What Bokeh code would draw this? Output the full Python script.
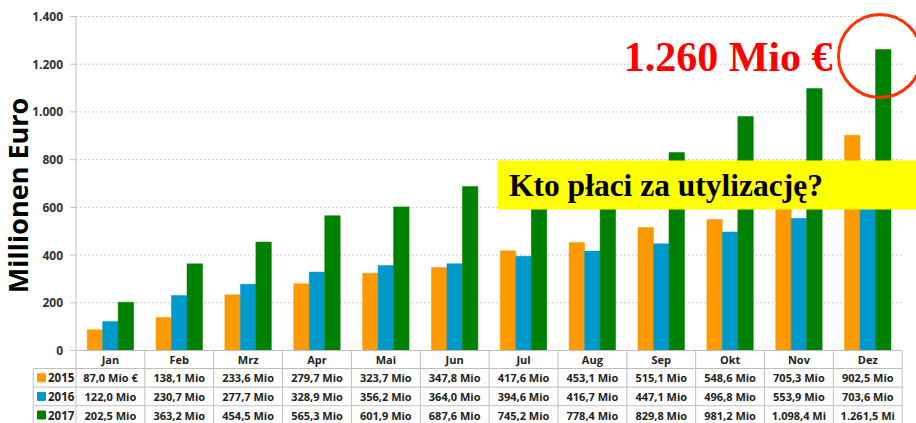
import math
from bokeh.plotting import figure
from bokeh.models import ColumnDataSource
from bokeh.embed import file_html
from bokeh.resources import INLINE
from bokeh.core.properties import value

# ---------------- data ----------------
months = ["Jan", "Feb", "Mrz", "Apr", "Mai", "Jun", "Jul", "Aug", "Sep", "Okt", "Nov", "Dez"]
years = ["2015", "2016", "2017"]
v2015 = [87.0, 138.1, 233.6, 279.7, 323.7, 347.8, 417.6, 453.1, 515.1, 548.6, 705.3, 902.5]
v2016 = [122.0, 230.7, 277.7, 328.9, 356.2, 364.0, 394.6, 416.7, 447.1, 496.8, 553.9, 703.6]
v2017 = [202.5, 363.2, 454.5, 565.3, 601.9, 687.6, 745.2, 778.4, 829.8, 981.2, 1098.4, 1261.5]
series = [v2015, v2016, v2017]
colors = ["#FF9900", "#0099CC", "#008000"]
yticks = [0, 200, 400, 600, 800, 1000, 1200, 1400]
ytick_labels = ["0", "200", "400", "600", "800", "1.000", "1.200", "1.400"]
axis_title = "Millionen Euro"
highlight_text = "1.260 Mio €"
question_text = "Kto płaci za utylizację?"

# ---------------- styling / geometry ----------------
FONT = "Open Sans"
SERIF = "Liberation Serif"
GRID = "#C8C8C8"
LINE = "#C0C0C0"
TXT = "#222222"

W, H = 916, 423
PXX = 68.85            # px per category
PXY = 334 / 1400       # px per value unit
X0 = 75.5              # screen x of category 0
Y0 = 350               # screen y of value 0

def sx(px):  # screen px -> data x
    return (px - X0) / PXX

def sy(py):  # screen py -> data y
    return (Y0 - py) / PXY

x_start, x_end = sx(0), sx(W)
y_start, y_end = sy(H), sy(0)

HDR = 18 / PXY          # header row height (data units)
ROW = 18.6 / PXY        # table row height (data units)
TLEFT = sx(32.7)        # left border of table legend column
offsets = [-0.225, 0.0, 0.225]
n = len(months)


def fmt(v):
    return f"{v:,.1f}".replace(",", " ").replace(".", ",").replace(" ", ".")


p = figure(width=W, height=H, x_range=(x_start, x_end), y_range=(y_start, y_end),
           output_backend="svg", toolbar_location=None,
           x_axis_location=None, y_axis_location=None,
           min_border_left=0, min_border_right=0, min_border_top=0, min_border_bottom=0)
p.outline_line_color = None
p.grid.visible = False

# grid lines and tick stubs
gt = yticks[1:]
p.segment(x0=[0] * len(gt), y0=gt, x1=[n] * len(gt), y1=gt,
          line_color=GRID, line_dash="2 2", line_width=1)
p.segment(x0=[sx(X0 - 6)] * len(yticks), y0=yticks, x1=[0] * len(yticks), y1=yticks,
          line_color=LINE, line_width=1)

# y tick labels
p.text(x=[sx(62.5)] * len(yticks), y=yticks, text=ytick_labels, text_align="right",
       text_baseline="middle", text_font=value(FONT), text_font_style="bold",
       text_font_size="12px", text_color="#333333")

# y axis title
p.text(x=[sx(16.5)], y=[650], text=[axis_title], angle=math.pi / 2,
       text_align="center", text_baseline="middle", text_font=value(FONT),
       text_font_style="bold", text_font_size="27px", text_color="black")

# bars
for vals, col, off in zip(series, colors, offsets):
    src = ColumnDataSource(dict(x=[i + 0.5 + off for i in range(n)], top=vals))
    p.vbar(x="x", top="top", width=0.225, bottom=0, source=src,
           fill_color=col, line_color=col, line_width=0.5)

# ---------------- data table ----------------
tbottom = -HDR - 3 * ROW
vx = list(range(n + 1))
p.segment(x0=vx, y0=[tbottom] * len(vx), x1=vx, y1=[0] * len(vx), line_color=LINE, line_width=1)
p.segment(x0=[0], y0=[0], x1=[0], y1=[1400], line_color=LINE, line_width=1)
p.segment(x0=[TLEFT], y0=[tbottom], x1=[TLEFT], y1=[-HDR], line_color=LINE, line_width=1)
p.segment(x0=[0], y0=[0], x1=[n], y1=[0], line_color=LINE, line_width=1)
hy = [-HDR - k * ROW for k in range(4)]
p.segment(x0=[TLEFT] * 4, y0=hy, x1=[n] * 4, y1=hy, line_color=LINE, line_width=1)

# header row
p.text(x=[i + 0.5 for i in range(n)], y=[-HDR / 2] * n, text=months,
       text_align="center", text_baseline="middle", text_font=value(FONT),
       text_font_style="bold", text_font_size="11px", text_color=TXT)

for r, (yr, vals, col) in enumerate(zip(years, series, colors)):
    yc = -HDR - (r + 0.5) * ROW
    labels = []
    for i, v in enumerate(vals):
        if r == 0 and i == 0:
            unit = "Mio €"
        elif v >= 1000:
            unit = "Mi"
        else:
            unit = "Mio"
        labels.append(f"{fmt(v)} {unit}")
    p.text(x=[i + 0.5 for i in range(n)], y=[yc] * n, text=labels,
           text_align="center", text_baseline="middle", text_font=value(FONT),
           text_font_style="bold", text_font_size="11px", text_color=TXT)
    p.scatter(x=[sx(41)], y=[yc], marker="square", size=8, fill_color=col, line_color=col)
    p.text(x=[sx(47.5)], y=[yc], text=[yr], text_align="left", text_baseline="middle",
           text_font=value(FONT), text_font_style="bold", text_font_size="11.5px",
           text_color=TXT)

# ---------------- annotations ----------------
p.quad(left=[sx(497)], right=[x_end + 1], bottom=[sy(209)], top=[sy(160)],
       fill_color="#FFFF00", line_color=None)
p.text(x=[sx(508.5)], y=[sy(185)], text=[question_text], text_align="left",
       text_baseline="middle", text_font=value(SERIF), text_font_style="bold",
       text_font_size="31.5px", text_color="black")

p.text(x=[sx(832)], y=[sy(56)], text=[highlight_text], text_align="right",
       text_baseline="middle", text_font=value(SERIF), text_font_style="bold",
       text_font_size="42px", text_color="#FF0000")
p.scatter(x=[sx(879.5)], y=[sy(55.5)], marker="circle", size=83,
          fill_color=None, line_color="#FF3300", line_width=3)

open("out.html", "w").write(file_html(p, INLINE))
